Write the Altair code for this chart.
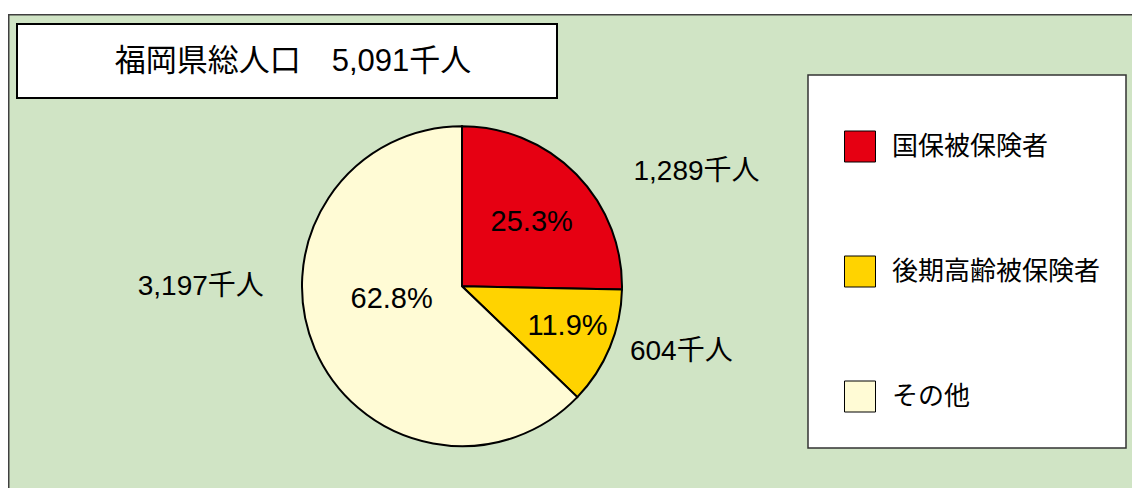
import altair as alt
import pandas as pd

# ---- data ----
CATEGORIES = ["国保被保険者", "後期高齢被保険者", "その他"]
VALUES = [1289, 604, 3197]          # 千人
PERCENTS = [25.3, 11.9, 62.8]       # %
COLORS = ["#e60012", "#ffd300", "#fffbd5"]
TITLE = "福岡県総人口"
TOTAL = 5091
UNIT = "千人"

# ---- layout / style ----
W, H = 1124, 480
CX, CY, R = 454, 278.2, 160
BG = "#d0e4c5"
FONT = "Liberation Sans, Noto Sans CJK JP"
CJK = "Noto Sans CJK JP"
# per-slice label placement: (radius, theta offset in radians)
PCT_POS = [(95.0, 0.028), (112.8, -0.032), (71.5, 0.223)]
VAL_POS = [(261.0, 0.321), (228.9, -0.103), (261.2, 0.401)]

df = pd.DataFrame({
    "cat": CATEGORIES,
    "value": VALUES,
    "idx": list(range(len(CATEGORIES))),
    "pct_label": [f"{p:.1f}%" for p in PERCENTS],
    "val_label": [f"{v:,}{UNIT}" for v in VALUES],
})
one = pd.DataFrame({"t": [f"{TITLE}　{TOTAL:,}{UNIT}"]})

theta_scale = alt.Scale(domain=[0, sum(VALUES)])

bg = alt.Chart(one).mark_rect(fill=BG, stroke="#404040", strokeWidth=1.5).encode(
    x=alt.value(0.75), x2=alt.value(W + 20), y=alt.value(6.75), y2=alt.value(H + 20))

title_box = alt.Chart(one).mark_rect(fill="white", stroke="black", strokeWidth=2).encode(
    x=alt.value(9), x2=alt.value(549), y=alt.value(16), y2=alt.value(90))
title_text = alt.Chart(one).mark_text(
    font=FONT, fontSize=31, color="black", align="center", baseline="middle"
).encode(x=alt.value(285), y=alt.value(54), text="t:N")

legend_box = alt.Chart(one).mark_rect(fill="white", stroke="#333333", strokeWidth=1.5).encode(
    x=alt.value(800), x2=alt.value(1118), y=alt.value(67), y2=alt.value(440))

base = alt.Chart(df).transform_window(
    cum="sum(value)", sort=[alt.SortField("idx")]
).transform_calculate(
    start="datum.cum - datum.value", mid="datum.cum - datum.value / 2"
)

arcs = base.mark_arc(radius=R, stroke="black", strokeWidth=2).encode(
    theta=alt.Theta("start:Q", stack=False, scale=theta_scale),
    theta2="cum:Q",
    x=alt.value(CX), y=alt.value(CY),
    color=alt.Color(
        "cat:N",
        scale=alt.Scale(domain=CATEGORIES, range=COLORS),
        legend=alt.Legend(
            title=None, orient="none", legendX=836, legendY=122.5,
            direction="vertical", symbolType="square", symbolSize=961,
            symbolStrokeColor="black", symbolStrokeWidth=1,
            labelFont=CJK, labelFontSize=26, labelColor="black",
            labelOffset=16, rowPadding=89, padding=0, labelLimit=400,
        ),
    ),
)


def slice_label(cat, field, radius, off, size):
    return base.transform_filter(alt.datum.cat == cat).mark_text(
        radius=radius, thetaOffset=off, font=FONT, fontSize=size,
        color="black", align="center", baseline="middle",
    ).encode(
        theta=alt.Theta("mid:Q", stack=False, scale=theta_scale),
        x=alt.value(CX), y=alt.value(CY),
        text=f"{field}:N",
    )


labels = []
for i, cat in enumerate(CATEGORIES):
    r, o = PCT_POS[i]
    labels.append(slice_label(cat, "pct_label", r, o, 29))
    r, o = VAL_POS[i]
    labels.append(slice_label(cat, "val_label", r, o, 28))

chart = alt.layer(bg, title_box, title_text, legend_box, arcs, *labels).properties(
    width=W, height=H, padding=0, autosize="none", background="white"
).configure_view(strokeWidth=0)

chart.save("out.html", embed_options={"renderer": "svg", "actions": False})
